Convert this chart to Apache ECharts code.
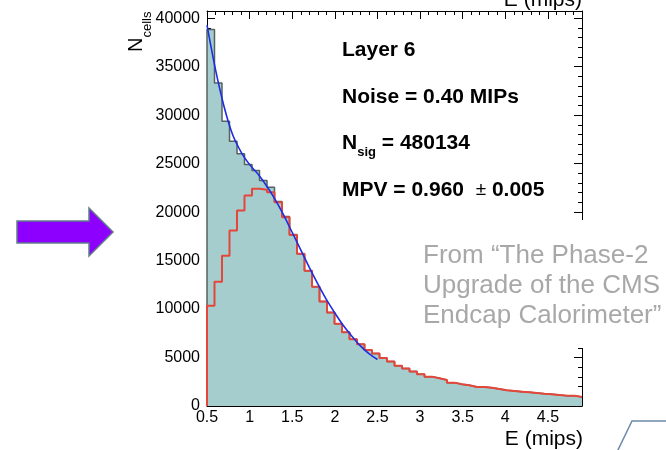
<!DOCTYPE html>
<html><head><meta charset="utf-8">
<script src="https://cdn.jsdelivr.net/npm/echarts@6/dist/echarts.min.js"></script>
<style>html,body{margin:0;padding:0;background:#fff}#c{width:666px;height:450px}</style>
</head><body><div id="c"></div>
<script>
// ---- data ----
const binLow = 0.5;
const binHigh = 4.9;
// total (teal filled, gray outline) counts per bin, 50 bins
const totalCounts = [38850, 33330, 29370, 27300, 26030, 24920, 24300, 23270, 22580, 21100,
  19540, 17700, 15700, 13960, 12300, 10770, 9650, 8480, 7620, 6890,
  6380, 5780, 5420, 4960, 4600, 4140, 3860, 3550, 3270, 3030,
  2860, 2690, 2410, 2240, 2140, 1960, 1960, 1890, 1760, 1620,
  1550, 1480, 1410, 1340, 1270, 1210, 1140, 1070, 1070, 930];
// signal (red outline) counts per bin
const signalCounts = [10340, 12820, 15510, 18100, 20170, 21720, 22410, 22300, 22060, 21030,
  19470, 17650, 15700, 13960, 12300, 10770, 9650, 8480, 7620, 6890,
  6380, 5780, 5420, 4960, 4600, 4140, 3860, 3550, 3270, 3030,
  2860, 2690, 2410, 2240, 2140, 1960, 1960, 1890, 1760, 1620,
  1550, 1480, 1410, 1340, 1270, 1210, 1140, 1070, 1070, 930];
// fit curve (blue)
const fitE = [0.5, 0.6, 0.7, 0.8, 0.9, 1.0, 1.1, 1.2, 1.3, 1.4, 1.5, 1.6, 1.7, 1.8, 1.9, 2.0, 2.1, 2.2, 2.3, 2.4, 2.5];
const fitN = [39300, 34700, 30900, 28000, 26200, 24900, 23900, 22700, 21300, 19700, 17900, 16100, 14300, 12600, 11000, 9600, 8300, 7200, 6200, 5400, 4800];
// axes
const xMin = 0.5, xMax = 4.9, xMajor = 0.5, xMinor = 0.1;
const yMin = 0, yMax = 40750, yMajor = 5000, yMinor = 1000;
const xTitle = 'E (mips)';
const infoLines = ['Layer 6', 'Noise = 0.40 MIPs', '480134', '0.960', '0.005'];
const sourceNote = 'From \u201CThe Phase-2\nUpgrade of the CMS\nEndcap Calorimeter\u201D';

const FONT = '"Liberation Sans", Arial, Helvetica, sans-serif';

function stepData(counts) {
  const w = (binHigh - binLow) / counts.length;
  const d = [[binLow, 0]];
  counts.forEach((c, i) => d.push([binLow + i * w, c]));
  d.push([binHigh, counts[counts.length - 1]]);
  return d;
}

function xAxisCfg(pos, interval, major) {
  return {
    type: 'value', position: pos, min: xMin, max: xMax, interval: interval, gridIndex: 0,
    axisLine: { show: major, onZero: false, lineStyle: { color: '#000', width: 1 } },
    axisTick: { show: true, inside: true, length: major ? 8 : 4, lineStyle: { color: '#000', width: 1 } },
    axisLabel: { show: major && pos === 'bottom', margin: 4, fontSize: 16, color: '#000', fontFamily: FONT,
      showMaxLabel: false, formatter: v => String(v) },
    splitLine: { show: false }, minorTick: { show: false }
  };
}
function yAxisCfg(pos, interval, major) {
  return {
    type: 'value', position: pos, min: yMin, max: yMax, interval: interval, gridIndex: 0,
    axisLine: { show: major, onZero: false, lineStyle: { color: '#000', width: 1 } },
    axisTick: { show: true, inside: true, length: major ? 8 : 4, lineStyle: { color: '#000', width: 1 } },
    axisLabel: { show: major && pos === 'left', margin: 7, fontSize: 16, color: '#000', fontFamily: FONT,
      showMaxLabel: false, formatter: v => String(v) },
    splitLine: { show: false }, minorTick: { show: false }
  };
}

const chart = echarts.init(document.getElementById('c'), null, { renderer: 'canvas' });
chart.setOption({
  animation: false,
  backgroundColor: '#fff',
  grid: { left: 207, top: 11, right: 84, bottom: 44 },
  xAxis: [xAxisCfg('bottom', xMajor, true), xAxisCfg('top', xMajor, true),
          xAxisCfg('bottom', xMinor, false), xAxisCfg('top', xMinor, false)],
  yAxis: [yAxisCfg('left', yMajor, true), yAxisCfg('right', yMajor, true),
          yAxisCfg('left', yMinor, false), yAxisCfg('right', yMinor, false)],
  series: [
    { type: 'line', name: 'total', xAxisIndex: 0, yAxisIndex: 0, data: stepData(totalCounts), step: 'end',
      symbol: 'none', lineStyle: { color: '#55625f', width: 1.5 }, areaStyle: { color: '#a6cdcd', opacity: 1 }, z: 2 },
    { type: 'line', name: 'signal', xAxisIndex: 0, yAxisIndex: 0, data: stepData(signalCounts), step: 'end',
      symbol: 'none', lineStyle: { color: '#e4473a', width: 2 }, z: 3 },
    { type: 'line', name: 'fit', xAxisIndex: 0, yAxisIndex: 0, data: fitE.map((e, i) => [e, fitN[i]]),
      smooth: 0.3, symbol: 'none', lineStyle: { color: '#1c2ee0', width: 1.6 }, z: 4 }
  ],
  graphic: { elements: [
    { type: 'rect', shape: { x: 418, y: 220, width: 250, height: 128 }, style: { fill: '#fff' }, z: 50 },
    { type: 'text', x: 423, y: 241, z: 51, style: { text: sourceNote, font: '26px ' + FONT, fill: '#a8a8a8',
        lineHeight: 30, align: 'left', verticalAlign: 'top' } },
    { type: 'text', x: 342, y: 50, z: 51, style: { text: infoLines[0], font: 'bold 21px ' + FONT, fill: '#000',
        align: 'left', verticalAlign: 'middle' } },
    { type: 'text', x: 342, y: 97, z: 51, style: { text: infoLines[1], font: 'bold 21px ' + FONT, fill: '#000',
        align: 'left', verticalAlign: 'middle' } },
    { type: 'text', x: 342, y: 133, z: 51, style: { text: '{b|N}{s|sig}{b| = ' + infoLines[2] + '}', align: 'left', verticalAlign: 'top',
        rich: { b: { fontSize: 21, fontWeight: 'bold', fontFamily: FONT, lineHeight: 21, verticalAlign: 'top', fill: '#000' },
                s: { fontSize: 13, fontWeight: 'bold', fontFamily: FONT, lineHeight: 13, padding: [13, 0, 0, 0], verticalAlign: 'top', fill: '#000' } } } },
    { type: 'text', x: 342, y: 190, z: 51, style: { text: '{b|MPV = ' + infoLines[3] + '  }{r|\u00B1}{b| ' + infoLines[4] + '}', align: 'left', verticalAlign: 'middle',
        rich: { b: { fontSize: 21, fontWeight: 'bold', fontFamily: FONT, fill: '#000' },
                r: { fontSize: 19, fontFamily: FONT, fill: '#000' } } } },
    { type: 'text', x: 126, y: 52, rotation: Math.PI / 2, z: 51, style: { text: '{n|N}{s|cells}', align: 'left', verticalAlign: 'top',
        rich: { n: { fontSize: 20, fontFamily: FONT, lineHeight: 22, verticalAlign: 'top', fill: '#000' },
                s: { fontSize: 13, fontFamily: FONT, lineHeight: 13, padding: [15, 0, 0, 0], verticalAlign: 'top', fill: '#000' } } } },
    { type: 'text', x: 583, y: 439.4, z: 51, style: { text: xTitle, font: '21px ' + FONT, fill: '#000', align: 'right', verticalAlign: 'middle' } },
    { type: 'text', x: 582, y: 0, z: 51, style: { text: xTitle, font: '21px ' + FONT, fill: '#000', align: 'right', verticalAlign: 'middle' } },
    { type: 'polygon', z: 51, shape: { points: [[17, 221], [89, 221], [89, 208], [113, 232], [89, 256], [89, 243], [17, 243]] },
      style: { fill: '#8e00fe', stroke: '#627d8c', lineWidth: 1.5 } },
    { type: 'polyline', z: 51, shape: { points: [[617, 452], [632, 421], [668, 421]] },
      style: { stroke: '#6c89a8', lineWidth: 1.5, fill: null } }
  ] }
});
</script></body></html>
